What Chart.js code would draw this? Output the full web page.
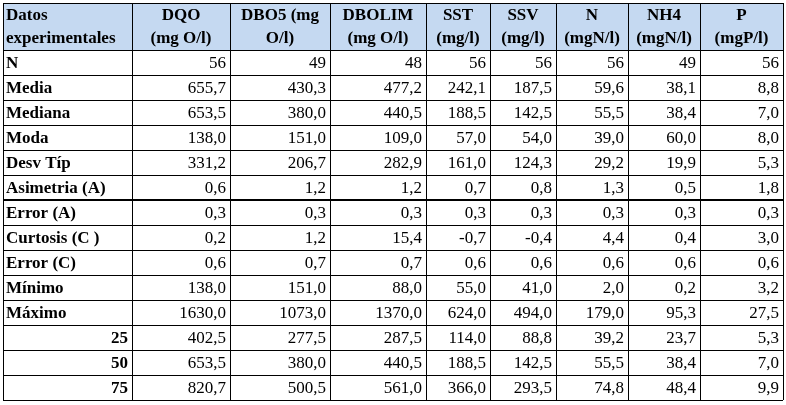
<!DOCTYPE html>
<html><head><meta charset="utf-8">
<script src="https://cdn.jsdelivr.net/npm/chart.js@4/dist/chart.umd.min.js"></script>
<style>html,body{margin:0;padding:0;background:#fff}#w{width:786px;height:405px}</style>
</head><body><div id="w"><canvas id="c"></canvas></div>
<script>
const headers=[["Datos","experimentales"],["DQO","(mg O/l)"],["DBO5 (mg","O/l)"],["DBOLIM","(mg O/l)"],["SST","(mg/l)"],["SSV","(mg/l)"],["N","(mgN/l)"],["NH4","(mgN/l)"],["P","(mgP/l)"]];
const rowLabels=["N","Media","Mediana","Moda","Desv Típ","Asimetria (A)","Error (A)","Curtosis (C )","Error (C)","Mínimo","Máximo","25","50","75"];
const DQO=[56,655.7,653.5,138.0,331.2,0.6,0.3,0.2,0.6,138.0,1630.0,402.5,653.5,820.7];
const DBO5=[49,430.3,380.0,151.0,206.7,1.2,0.3,1.2,0.7,151.0,1073.0,277.5,380.0,500.5];
const DBOLIM=[48,477.2,440.5,109.0,282.9,1.2,0.3,15.4,0.7,88.0,1370.0,287.5,440.5,561.0];
const SST=[56,242.1,188.5,57.0,161.0,0.7,0.3,-0.7,0.6,55.0,624.0,114.0,188.5,366.0];
const SSV=[56,187.5,142.5,54.0,124.3,0.8,0.3,-0.4,0.6,41.0,494.0,88.8,142.5,293.5];
const Ncol=[56,59.6,55.5,39.0,29.2,1.3,0.3,4.4,0.6,2.0,179.0,39.2,55.5,74.8];
const NH4=[49,38.1,38.4,60.0,19.9,0.5,0.3,0.4,0.6,0.2,95.3,23.7,38.4,48.4];
const P=[56,8.8,7.0,8.0,5.3,1.8,0.3,3.0,0.6,3.2,27.5,5.3,7.0,9.9];
const columns=[DQO,DBO5,DBOLIM,SST,SSV,Ncol,NH4,P];
const edges=[3,132,230,330,426,490,556,628,700,783];
const fmt=(v,r)=>r===0?String(v):v.toFixed(1).replace('.',',');
const tablePlugin={id:'tbl',afterDraw(ch){
 const ctx=ch.ctx, y=ch.scales.y, top=3, hb=ch.chartArea.top;
 const rh=y.getPixelForValue(1)-y.getPixelForValue(0);
 ctx.save();
 ctx.fillStyle='#C5D9F1';ctx.fillRect(edges[0],top,edges[9]-edges[0],hb-top);
 ctx.fillStyle='#000';ctx.font='bold 17px "Liberation Serif"';ctx.textBaseline='middle';
 headers.forEach((h,i)=>{
  if(i===0){ctx.textAlign='left';h.forEach((t,k)=>ctx.fillText(t,edges[0]+3,top+13+k*23));}
  else{ctx.textAlign='center';const cx=(edges[i]+edges[i+1])/2;h.forEach((t,k)=>ctx.fillText(t,cx,top+13+k*23));}
 });
 rowLabels.forEach((lab,r)=>{
  const cy=y.getPixelForValue(r)+1;
  ctx.font='bold 17px "Liberation Serif"';
  if(r>=11){ctx.textAlign='right';ctx.fillText(lab,edges[1]-4,cy);}
  else{ctx.textAlign='left';ctx.fillText(lab,edges[0]+3,cy);}
  ctx.font='17px "Liberation Serif"';ctx.textAlign='right';
  columns.forEach((col,c)=>ctx.fillText(fmt(col[r],r),edges[c+2]-4,cy));
 });
 ctx.strokeStyle='#000';ctx.lineWidth=1;
 const bottom=y.getPixelForValue(rowLabels.length-1)+rh/2;
 ctx.beginPath();
 edges.forEach(x=>{ctx.moveTo(x+0.5,top);ctx.lineTo(x+0.5,bottom);});
 ctx.moveTo(edges[0],top+0.5);ctx.lineTo(edges[9],top+0.5);
 for(let r=0;r<=rowLabels.length;r++){const yy=Math.round(y.getPixelForValue(r)-rh/2)+0.5;ctx.moveTo(edges[0],yy);ctx.lineTo(edges[9],yy);}
 ctx.stroke();
 ctx.lineWidth=2;ctx.beginPath();const yy=Math.round(y.getPixelForValue(6)-rh/2);ctx.moveTo(edges[0],yy);ctx.lineTo(edges[9],yy);ctx.stroke();
 ctx.restore();
}};
new Chart(document.getElementById('c'),{type:'scatter',
 data:{datasets:[{data:rowLabels.map((l,i)=>({x:0,y:l})),pointRadius:0}]},
 options:{responsive:true,maintainAspectRatio:false,animation:false,
  layout:{padding:{top:50,bottom:5,left:0,right:0}},
  plugins:{legend:{display:false},tooltip:{enabled:false}},
  scales:{x:{display:false,min:0,max:1},y:{type:'category',labels:rowLabels,offset:true,display:false}}},
 plugins:[tablePlugin]});
</script></body></html>
